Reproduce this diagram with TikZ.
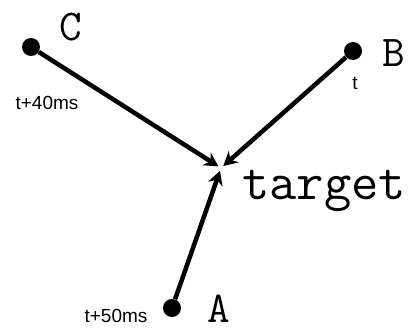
\documentclass[tikz,border=0pt]{standalone}
\usepackage{fontspec}
\usetikzlibrary{arrows.meta}
\setmainfont{Liberation Sans}
\tikzset{
	station/.style={circle, fill=black, inner sep=0pt, minimum size=18pt},
	letter/.style={font=\ttfamily\fontsize{44}{44}\selectfont, inner sep=0pt},
	delay/.style={font=\fontsize{19}{19}\selectfont, inner sep=0pt},
	ray/.style={line width=4.5pt, -{Stealth[length=14pt,width=15pt]}, shorten >=3pt},
}
\begin{document}
\begin{tikzpicture}[x=1pt,y=-1pt]
	\useasboundingbox (0,0) rectangle (409,329);
	
	\coordinate (T) at (221,168);
	\node[station] (C) at (31,47) {};
	\node[station] (B) at (353,51) {};
	\node[station] (A) at (172,308) {};
	
	% Rays to the target
	\draw[ray] (C) -- (T);
	\draw[ray] (B) -- (T);
	\draw[ray] (A) -- (T);
	
	% Labels
	\node[font=\ttfamily\fontsize{53}{53}\selectfont, inner sep=0pt, anchor=base west] (target) at (242,199) {target};
	\node[letter] (labC) at (71,27) {C};
	\node[letter] (labB) at (394,53) {B};
	\node[letter] (labA) at (219,309) {A};
	
	\node[delay] (tC) at (47,103) {t+40ms};
	\node[delay] (tB) at (355,83) {t};
	\node[delay] (tA) at (116,316) {t+50ms};
	
\end{tikzpicture}
\end{document}
